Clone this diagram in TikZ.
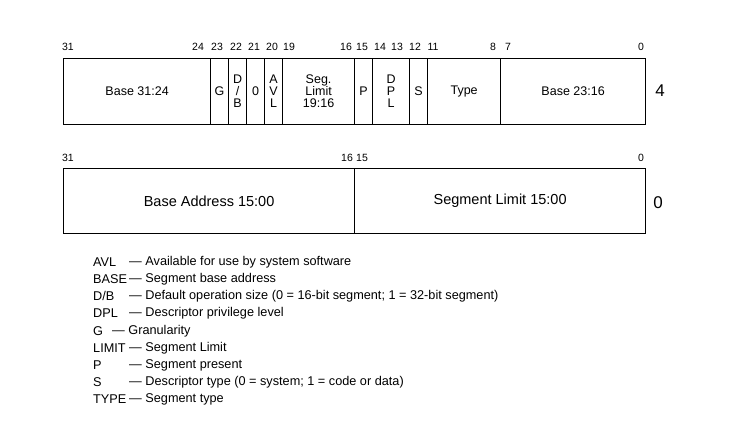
\documentclass[tikz,border=0pt]{standalone}
\usepackage{fontspec}
\setmainfont{Liberation Sans}
\begin{document}
\begin{tikzpicture}[x=1pt,y=-1pt,
 fld/.style={draw,line width=1.2pt,minimum height=66pt,inner sep=0pt,font=\fontsize{12.5}{12}\selectfont,align=center,anchor=north west},
 fld2/.style={draw,line width=1.2pt,minimum height=65pt,inner sep=0pt,font=\fontsize{14.5}{15}\selectfont,anchor=north west},
 bit/.style={font=\fontsize{10.5}{10.5}\selectfont,inner sep=0pt},
 lab/.style={font=\fontsize{17}{17}\selectfont,inner sep=0pt},
 leg/.style={font=\fontsize{12.7}{13}\selectfont,inner sep=0pt,anchor=west}]
\useasboundingbox (0,0) rectangle (735,442);
\node[fld,minimum width=147pt] (b3124) at (63,58) {Base 31:24};
\node[fld,minimum width=18pt] (g) at (210,58) {G};
\node[fld,minimum width=18pt] (db) at (228,58) {D\\/\\B};
\node[fld,minimum width=18pt] (z) at (246,58) {0};
\node[fld,minimum width=18pt] (avl) at (264,58) {A\\V\\L};
\node[fld,minimum width=72pt] (seg) at (282,58) {Seg.\\Limit\\19:16};
\node[fld,minimum width=18pt] (p) at (354,58) {P};
\node[fld,minimum width=37pt] (dpl) at (372,58) {D\\P\\L};
\node[fld,minimum width=18pt] (s) at (409,58) {S};
\node[fld,minimum width=73pt] (type) at (427,58) {Type};
\node[fld,minimum width=145pt] (b2316) at (500,58) {Base 23:16};
\node[lab] (four) at (660,91) {4};
\foreach \n/\x in {31/68,24/198,23/217,22/236,21/254,20/272,19/289,16/346,15/362,14/380,13/397,12/415,11/433,8/493,7/508,0/641}
  \node[bit] (t\n) at (\x,47) {\n};
\node[fld2,minimum width=291pt] (ba) at (63,168) {Base Address 15:00};
\node[fld2,minimum width=291pt] (sl) at (354,168) {Segment Limit 15:00};
\node[lab] (zero) at (658,203) {0};
\foreach \n/\x in {31/68,16/347,15/362,0/641}
  \node[bit] (u\n) at (\x,158) {\n};
\foreach \i/\a/\d/\dx in {0/AVL/Available for use by system software/129,
 1/BASE/Segment base address/129,
 2/D\slash B/Default operation size (0 = 16-bit segment; 1 = 32-bit segment)/129,
 3/DPL/Descriptor privilege level/129,
 4/G/Granularity/112,
 5/LIMIT/Segment Limit/129,
 6/P/Segment present/129,
 7/S/Descriptor type (0 = system; 1 = code or data)/129,
 8/TYPE/Segment type/129}{
  \node[leg] (a\i) at (93,262+17.2*\i) {\a};
  \node[leg] (d\i) at (\dx,262+17.2*\i) {— \d};
}
\end{tikzpicture}
\end{document}
